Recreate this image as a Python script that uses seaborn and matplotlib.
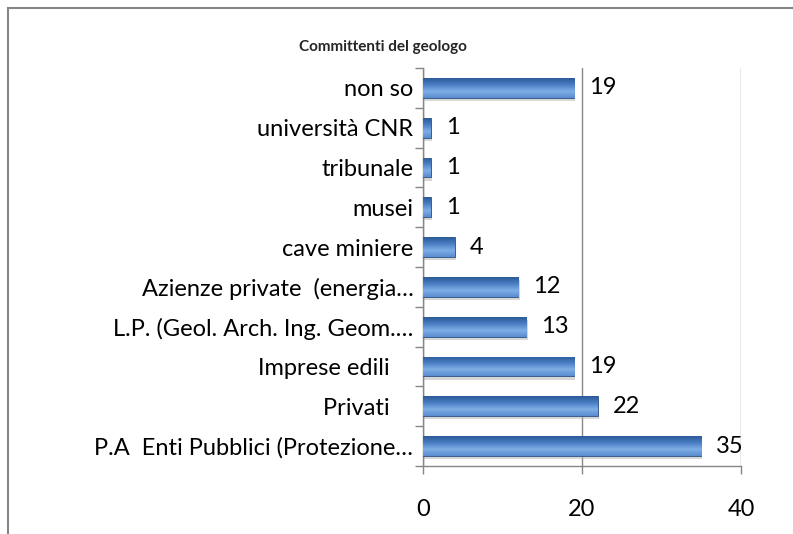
import numpy as np
import pandas as pd
import matplotlib
matplotlib.use("Agg")
import matplotlib.pyplot as plt
from matplotlib.colors import LinearSegmentedColormap
from matplotlib.patches import Rectangle
import seaborn as sns

categorie = [
    "non so",
    "università CNR",
    "tribunale",
    "musei",
    "cave miniere",
    "Azienze private  (energia…",
    "L.P. (Geol. Arch. Ing. Geom.…",
    "Imprese edili    ",
    "Privati    ",
    "P.A  Enti Pubblici (Protezione…",
]
valori = [19, 1, 1, 1, 4, 12, 13, 19, 22, 35]
x_ticks = [0, 20, 40]

sns.set_theme(style="white")
plt.rcParams["font.family"] = ["Lato", "DejaVu Sans"]

df = pd.DataFrame({"categoria": categorie, "valore": valori})

fig = plt.figure(figsize=(7.93, 5.34), dpi=100)
ax = fig.add_axes([0.5334, 0.1273, 0.401, 0.7453])

sns.barplot(data=df, x="valore", y="categoria", orient="h", color="#4F81BD",
            width=0.5, edgecolor="#2C5282", linewidth=0.6, ax=ax, zorder=3)

# gradiente "3D" stile Excel
grad = LinearSegmentedColormap.from_list("bar", ["#2B5A97", "#4A7FC4", "#7FAEE6", "#5A8DD0"])
for p in ax.patches:
    x0, y0 = p.get_x(), p.get_y()
    w, h = p.get_width(), p.get_height()
    # ombra
    sh = Rectangle((x0 + 0.15, y0 + 0.08), w, h, color="#B0B0B0", alpha=0.5,
                   zorder=2, linewidth=0)
    ax.add_patch(sh)
    img = ax.imshow(np.linspace(0, 1, 64).reshape(-1, 1), cmap=grad,
                    extent=[x0, x0 + w, y0 + h, y0], aspect="auto", zorder=3.5)
    img.set_clip_path(p)

ax.set_xlim(0, 40)
ax.set_ylim(len(categorie) - 0.5, -0.5)

for i, v in enumerate(valori):
    ax.text(v + 1.9, i, str(v), va="center", ha="left", fontsize=17,
            color="black", zorder=5)

ax.set_xticks(x_ticks)
ax.set_xticklabels([str(t) for t in x_ticks])
ax.set_yticks(range(len(categorie)))
ax.set_yticks(np.arange(-0.5, len(categorie), 1), minor=True)
ax.tick_params(axis="y", which="major", length=0, pad=7, labelsize=17, labelcolor="black")
ax.tick_params(axis="y", which="minor", length=6, width=1, color="#868686", direction="out", left=True)
ax.tick_params(axis="x", which="major", length=6, width=1, color="#868686", direction="out",
               bottom=True, pad=18, labelsize=17, labelcolor="black")

ax.grid(axis="x", color="#868686", linewidth=1, zorder=0)
ax.set_axisbelow(True)
for s in ["top", "right"]:
    ax.spines[s].set_visible(False)
for s in ["left", "bottom"]:
    ax.spines[s].set_color("#868686")
    ax.spines[s].set_linewidth(1)
ax.set_xlabel("")
ax.set_ylabel("")

fig.text(0.483, 0.912, "Committenti del geologo", ha="center", va="center",
         fontsize=11, fontweight="bold")

# cornice del grafico (tagliata a destra e in basso)
fig.patches.append(Rectangle((8 / 793, -0.1), 1.2, 1 - 8 / 534 + 0.1,
                             transform=fig.transFigure, fill=False,
                             edgecolor="#868686", linewidth=1.5))

fig.savefig("out.png", dpi=100)
